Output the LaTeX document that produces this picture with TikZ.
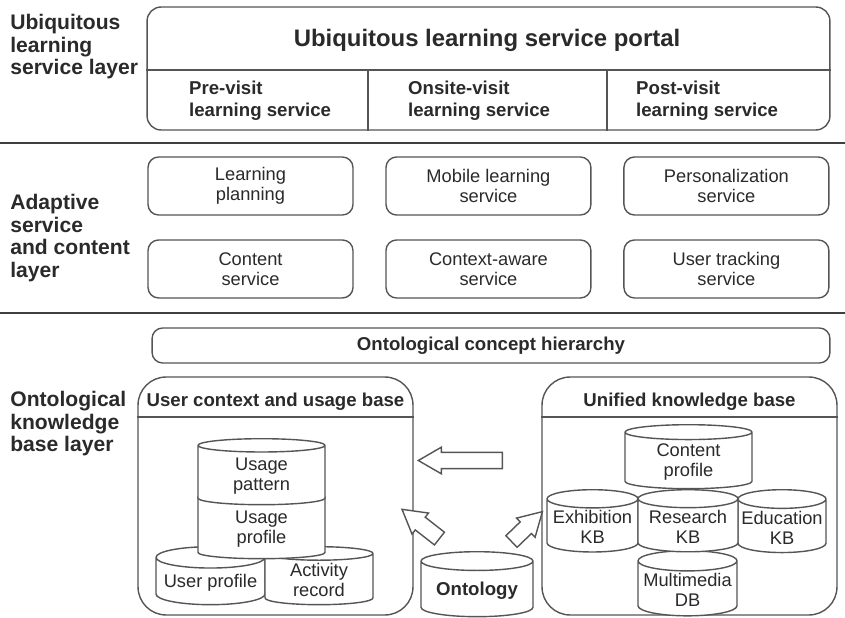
\documentclass[tikz,border=0pt]{standalone}
\usepackage{fontspec}
\setmainfont{Liberation Sans}
\usetikzlibrary{shapes.geometric,shapes.arrows}
\definecolor{linegray}{HTML}{555555}
\definecolor{inkgray}{HTML}{2A2A2A}

\begin{document}
\begin{tikzpicture}[x=0.02cm,y=-0.02cm,text=inkgray]
        \tikzstyle{layer label}=[align=left,anchor=west,inner sep=0pt,font=\bfseries\fontsize{12}{12.8}\selectfont]
        \tikzstyle{service box}=[draw=linegray,line width=0.8pt,rounded corners=6pt,minimum width=4.1cm,minimum height=1.16cm,align=center,node distance=4.76cm,font=\fontsize{10.4}{11.4}\selectfont]
        \tikzstyle{cell label}=[align=left,font=\bfseries\fontsize{10.6}{12.5}\selectfont]
        \tikzstyle{group box}=[draw=linegray,line width=0.8pt,rounded corners=16pt,minimum height=4.76cm]
        \tikzstyle{db}=[cylinder,shape border rotate=90,aspect=0.22,draw=linegray,line width=0.8pt,fill=white,anchor=north,align=center,inner sep=1pt,font=\fontsize{10.4}{11.4}\selectfont]
        \tikzstyle{big arrow}=[single arrow,draw=linegray,line width=0.8pt,fill=white,minimum width=14pt,single arrow head extend=3pt,single arrow tip angle=60,inner sep=4.2pt,anchor=tail]
        \useasboundingbox (0,0) rectangle (845,618);

        % service layer
        \node[layer label] (ulayer) at (10,47) {Ubiquitous\\learning\\service layer};
        \node[draw=linegray,line width=0.8pt,rounded corners=8pt,minimum width=13.66cm,minimum height=2.46cm] (portal) at (488.5,68.5) {};
        \node[font=\bfseries\fontsize{13.6}{15}\selectfont] (portaltitle) at (487,40) {Ubiquitous learning service portal};
        \draw[linegray,line width=0.8pt] (portal.west |- 0,70) -- (portal.east |- 0,70);
        \draw[linegray,line width=0.8pt] (368,70) -- (368,70 |- portal.south);
        \draw[linegray,line width=0.8pt] (607,70) -- (607,70 |- portal.south);
        \node[cell label,anchor=west] (previsit) at (183,101) {Pre-visit\\learning service};
        \node[cell label,anchor=west] (onsite) at (402,101) {Onsite-visit\\learning service};
        \node[cell label,anchor=west] (postvisit) at (630,101) {Post-visit\\learning service};

        \draw[inkgray!90,line width=1.6pt] (0,143) -- (845,143);

        % adaptive layer
        \node[layer label] (alayer) at (10,238) {Adaptive\\service\\and content\\layer};
        \node[service box] (planning) at (250.5,186) {Learning\\planning};
        \node[service box] (mobile) [right of=planning] {Mobile learning\\service};
        \node[service box] (personal) [right of=mobile] {Personalization\\service};
        \node[service box] (contentsvc) [below of=planning,node distance=1.66cm] {Content\\service};
        \node[service box] (context) [below of=mobile,node distance=1.66cm] {Context-aware\\service};
        \node[service box] (tracking) [below of=personal,node distance=1.66cm] {User tracking\\service};

        \draw[inkgray!90,line width=1.6pt] (0,313) -- (845,313);

        % knowledge base layer
        \node[layer label] (klayer) at (10,424) {Ontological\\knowledge\\base layer};
        \node[draw=linegray,line width=0.8pt,rounded corners=6pt,minimum width=13.56cm,minimum height=0.7cm,font=\bfseries\fontsize{10.6}{12}\selectfont] (hierarchy) at (491,345.5) {Ontological concept hierarchy};

        \node[group box,minimum width=5.5cm] (usagebase) at (275.5,496) {};
        \draw[linegray,line width=0.8pt] (usagebase.west |- 0,417) -- (usagebase.east |- 0,417);
        \node[cell label] (usagetitle) at (275.5,402) {User context and usage base};
        \node[db,minimum width=2.18cm,minimum height=1.16cm] (userprof) at (210.5,546) {User profile};
        \node[db,minimum width=2.16cm,minimum height=1.16cm] (activity) at (319,546) {Activity\\record};
        \node[db,minimum width=2.54cm,minimum height=1.36cm] (uprofile) at (261.5,490) {Usage\\profile};
        \node[db,minimum width=2.54cm,minimum height=1.32cm] (upattern) at (261.5,438) {Usage\\pattern};

        \node[group box,minimum width=5.9cm] (knowbase) at (689.5,496) {};
        \draw[linegray,line width=0.8pt] (knowbase.west |- 0,417) -- (knowbase.east |- 0,417);
        \node[cell label] (knowtitle) at (689.5,402) {Unified knowledge base};
        \node[db,minimum width=1.98cm,minimum height=1.16cm] (multimedia) at (687.5,550) {Multimedia\\DB};
        \node[db,minimum width=1.82cm,minimum height=1.22cm] (exhibition) at (592.5,489) {Exhibition\\KB};
        \node[db,minimum width=1.76cm,minimum height=1.22cm] (education) at (782,489) {Education\\KB};
        \node[db,minimum width=2.0cm,minimum height=1.22cm] (research) at (688,489) {Research\\KB};
        \node[db,minimum width=2.54cm,minimum height=1.28cm] (contentprof) at (688.5,424) {Content\\profile};

        \node[db,minimum width=2.24cm,minimum height=1.3cm,font=\bfseries\fontsize{10.6}{12}\selectfont] (ontology) at (477,551) {Ontology};

        \node[big arrow,minimum height=1.68cm,rotate=180] (toleft) at (503,460.5) {};
        \node[big arrow,minimum height=0.95cm,rotate=142] (toleftup) at (440,539) {};
        \node[big arrow,minimum height=0.86cm,rotate=44] (torightup) at (511,542) {};
    \end{tikzpicture}
\end{document}
